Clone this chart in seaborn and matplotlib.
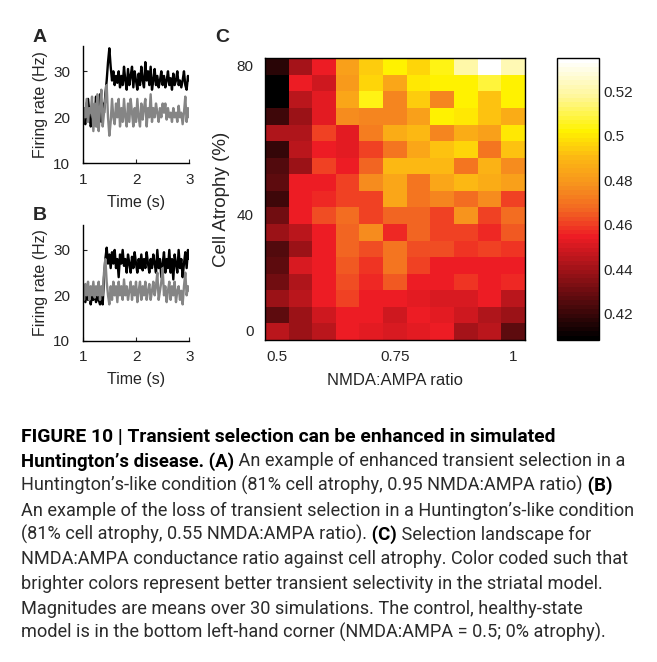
import numpy as np
import pandas as pd
import seaborn as sns
import matplotlib.pyplot as plt
from matplotlib.colors import LinearSegmentedColormap

sns.set_style("white")
plt.rcParams["font.family"] = ["Liberation Sans", "DejaVu Sans"]
plt.rcParams["xtick.direction"] = "in"
plt.rcParams["ytick.direction"] = "in"

# ----------------------------- data
# panel C: selection landscape, rows from 80 % atrophy (top) to 0 % (bottom)
nmda_ratio = [0.5, 0.55, 0.6, 0.65, 0.7, 0.75, 0.8, 0.85, 0.9, 0.95, 1.0]
atrophy_labels = ["80", "", "", "", "", "", "", "", "", "40", "", "", "", "", "", "", "0"]
selectivity = [
    [0.416, 0.440, 0.454, 0.482, 0.494, 0.502, 0.497, 0.504, 0.520, 0.535, 0.523],
    [0.409, 0.454, 0.449, 0.480, 0.497, 0.484, 0.500, 0.503, 0.503, 0.508, 0.502],
    [0.409, 0.444, 0.452, 0.484, 0.505, 0.475, 0.495, 0.475, 0.503, 0.493, 0.502],
    [0.421, 0.439, 0.452, 0.477, 0.475, 0.475, 0.483, 0.503, 0.500, 0.493, 0.487],
    [0.443, 0.442, 0.461, 0.452, 0.473, 0.487, 0.491, 0.475, 0.487, 0.482, 0.500],
    [0.419, 0.444, 0.454, 0.452, 0.460, 0.471, 0.485, 0.492, 0.497, 0.471, 0.492],
    [0.424, 0.439, 0.461, 0.455, 0.466, 0.491, 0.491, 0.491, 0.471, 0.489, 0.477],
    [0.427, 0.454, 0.454, 0.461, 0.476, 0.485, 0.471, 0.484, 0.491, 0.487, 0.482],
    [0.420, 0.454, 0.457, 0.461, 0.461, 0.484, 0.471, 0.475, 0.468, 0.476, 0.460],
    [0.430, 0.454, 0.462, 0.468, 0.461, 0.466, 0.466, 0.461, 0.478, 0.461, 0.468],
    [0.439, 0.444, 0.454, 0.466, 0.476, 0.456, 0.466, 0.461, 0.460, 0.457, 0.464],
    [0.424, 0.439, 0.454, 0.466, 0.462, 0.471, 0.462, 0.462, 0.459, 0.461, 0.459],
    [0.427, 0.451, 0.454, 0.465, 0.459, 0.471, 0.460, 0.454, 0.455, 0.454, 0.455],
    [0.430, 0.443, 0.454, 0.462, 0.457, 0.464, 0.455, 0.454, 0.459, 0.454, 0.456],
    [0.439, 0.444, 0.454, 0.460, 0.454, 0.454, 0.453, 0.451, 0.451, 0.454, 0.444],
    [0.427, 0.439, 0.448, 0.454, 0.454, 0.448, 0.454, 0.452, 0.448, 0.443, 0.439],
    [0.444, 0.439, 0.444, 0.454, 0.453, 0.450, 0.452, 0.454, 0.440, 0.444, 0.427],
]
cbar_ticks = [0.42, 0.44, 0.46, 0.48, 0.50, 0.52]

# panels A and B: firing rates (Hz), sampled evenly from 1 s to 3 s
t_start, t_end = 1.0, 3.0
a_black = [21, 19, 18.5, 23, 24, 21, 18, 19, 22, 20, 24.5, 18, 21, 25, 19, 23, 21, 25, 28, 32,
           35, 31, 28, 30, 27, 29, 27.5, 30, 26.5, 29, 27, 31, 28, 26, 30.5, 27, 29, 31, 26.5, 30,
           28, 26, 29.5, 27, 31, 28, 26.5, 32, 28, 30, 27, 31, 26, 28, 30.5, 27, 29, 26.5, 28, 30,
           27, 29, 26.5, 28, 30, 27, 28.5, 26, 29.5, 27, 28, 30, 27, 28, 26.5, 28, 30, 27, 26, 29, 28]
a_gray = [18, 22, 20, 24, 19, 22, 21, 24.5, 17, 23, 18, 25, 17, 22, 26, 18, 21, 24, 27, 20,
          16, 19, 24, 20, 18.5, 23, 20, 24, 18, 22, 19, 24, 20, 18, 23, 19, 24, 21, 18, 22,
          19, 24, 20, 18, 23, 19.5, 22, 24, 18, 22, 20, 25, 19, 22, 20, 23, 21, 19, 22, 20,
          23, 21, 23, 19.5, 22, 20, 21, 19, 22, 20, 21, 19, 22.5, 20, 21, 18.5, 21, 24.5, 19, 22, 20]
b_black = [20, 21, 18.5, 20.5, 19, 21, 18, 20, 19, 21.5, 18.5, 20, 19, 18, 20, 18, 24, 28, 30.5, 27,
           29, 26, 29.5, 27, 30, 26, 28, 24, 29, 27, 30, 26.5, 28, 25, 29, 27, 25, 28.5, 26, 29.5,
           27, 25, 28, 26, 29, 25.5, 28, 26, 29.5, 27, 25, 28, 26, 29, 27, 25, 30, 26, 28, 24,
           27, 29.5, 25, 28, 26, 30, 25, 28, 23.5, 29, 27, 25, 30, 26, 28, 24, 27, 29.5, 26, 30, 28]
b_gray = [21, 19, 22.5, 20, 23, 19, 22, 20, 23, 19.5, 22, 20, 23, 19, 22, 20, 25, 28, 23, 20,
          18, 22, 19, 23, 20, 22, 18.5, 23, 20, 22, 19, 23.5, 20, 22, 19, 21, 23, 19, 22, 20,
          23, 18.5, 21, 23, 19, 22, 20, 23, 19, 21, 22.5, 19, 21, 23, 20, 22, 25, 19, 21, 23,
          26, 20, 22, 18.5, 21, 23, 19, 22, 20, 23, 18.5, 21, 22, 19, 21, 18, 22, 25, 20, 22, 21]

caption = [
    [("FIGURE 10 | Transient selection can be enhanced in simulated", True)],
    [("Huntington\u2019s disease. (A)", True),
     (" An example of enhanced transient selection in a", False)],
    [("Huntington\u2019s-like condition (81% cell atrophy, 0.95 NMDA:AMPA ratio)", False),
     (" (B)", True)],
    [("An example of the loss of transient selection in a Huntington\u2019s-like condition", False)],
    [("(81% cell atrophy, 0.55 NMDA:AMPA ratio).", False), (" (C)", True),
     (" Selection landscape for", False)],
    [("NMDA:AMPA conductance ratio against cell atrophy. Color coded such that", False)],
    [("brighter colors represent better transient selectivity in the striatal model.", False)],
    [("Magnitudes are means over 30 simulations. The control, healthy-state", False)],
    [("model is in the bottom left-hand corner (NMDA:AMPA = 0.5; 0% atrophy).", False)],
]

# -----------------------------
W, H = 657, 662
fig = plt.figure(figsize=(W / 100, H / 100), dpi=100)
fs = 11

# MATLAB "hot" as it looks in print
hot_print = LinearSegmentedColormap.from_list("hot_print", [
    (0.0, "#000000"), (0.365, "#ed1c24"), (0.46, "#f26522"), (0.555, "#f7941d"),
    (0.65, "#fcb813"), (0.746, "#fff200"), (0.87, "#fff799"), (1.0, "#ffffff")], N=64)


def px_axes(left, top, right, bottom):
    return fig.add_axes([left / W, 1 - bottom / H, (right - left) / W, (bottom - top) / H])


def trace_panel(ax, black, gray):
    time = np.linspace(t_start, t_end, len(black))
    sns.lineplot(x=time, y=black, color="black", lw=1.7, ax=ax)
    sns.lineplot(x=time, y=gray, color="#858585", lw=1.7, ax=ax)
    ax.set_xlim(1, 3)
    ax.set_ylim(10, 35.5)
    ax.set_xticks([1, 2, 3])
    ax.set_yticks([10, 20, 30])
    sns.despine(ax=ax)
    for sp in ax.spines.values():
        sp.set_linewidth(1.0)
        sp.set_color("black")
    ax.tick_params(axis="both", direction="in", length=3, width=0.8, labelsize=fs,
                   left=True, bottom=True)
    ax.tick_params(axis="y", pad=9)
    ax.tick_params(axis="x", pad=7)
    ax.set_ylabel("Firing rate (Hz)", fontsize=11.5)
    ax.yaxis.set_label_coords(-0.33, 0.5)
    ax.set_xlabel("Time (s)", fontsize=11.5)
    ax.xaxis.set_label_coords(0.5, -0.27)


ax_a = px_axes(82.7, 46, 189.3, 163.3)
trace_panel(ax_a, a_black, a_gray)
ax_b = px_axes(82.7, 225, 189.3, 340.7)
trace_panel(ax_b, b_black, b_gray)

# heatmap C
ax_c = px_axes(264.9, 58.3, 525, 340)
cax = px_axes(556.7, 58.3, 599.3, 340)
df = pd.DataFrame(selectivity, columns=nmda_ratio)
sns.heatmap(df, cmap=hot_print, vmin=0.408, vmax=0.535, ax=ax_c,
            cbar_ax=cax, cbar_kws={"ticks": cbar_ticks})

ytick_pos = [i + 0.5 for i, lab in enumerate(atrophy_labels) if lab]
ax_c.set_yticks(ytick_pos)
ax_c.set_yticklabels([lab for lab in atrophy_labels if lab], rotation=0, fontsize=fs)
xtick_vals = [0.5, 0.75, 1.0]
ax_c.set_xticks([nmda_ratio.index(v) + 0.5 for v in xtick_vals])
ax_c.set_xticklabels([f"{v:g}" for v in xtick_vals], rotation=0, fontsize=fs)
for sp in ax_c.spines.values():
    sp.set_visible(True)
    sp.set_linewidth(1.0)
    sp.set_color("black")
ax_c.tick_params(axis="both", direction="in", length=3, width=0.8,
                 left=True, bottom=True, top=True, right=True)
ax_c.tick_params(axis="y", pad=8)
ax_c.tick_params(axis="x", pad=7)
ax_c.set_xlabel("NMDA:AMPA ratio", fontsize=12)
ax_c.xaxis.set_label_coords(0.5, -0.118)
ax_c.set_ylabel("Cell Atrophy (%)", fontsize=13.5)
ax_c.yaxis.set_label_coords(-0.135, 0.5)

cax.set_yticklabels([f"{v:g}" for v in cbar_ticks], fontsize=fs)
cax.tick_params(axis="y", direction="in", length=3, width=0.8, left=True, right=True, pad=3)
cbar = ax_c.collections[0].colorbar
cbar.outline.set_edgecolor("black")
cbar.outline.set_linewidth(1.0)

# panel letters
for letter, (x, y) in {"A": (40, 38), "B": (40, 216), "C": (222, 38)}.items():
    fig.text(x / W, 1 - y / H, letter, fontsize=14, fontweight="bold",
             ha="center", va="center")

# caption
cap_family = ["Roboto", "DejaVu Sans"]
renderer = fig.canvas.get_renderer()
for i, parts in enumerate(caption):
    x = 21 / W
    y = 1 - (442 + 24.5 * i) / H
    for text, bold in parts:
        size = 13.9 if i == 0 else (13.4 if bold else 13.1)
        t = fig.text(x, y, text, fontsize=size, family=cap_family,
                     fontweight="bold" if bold else "normal",
                     color="black" if bold else "#2b2b2b", va="baseline", ha="left")
        x += t.get_window_extent(renderer).width / W

fig.savefig("out.png", dpi=100)
